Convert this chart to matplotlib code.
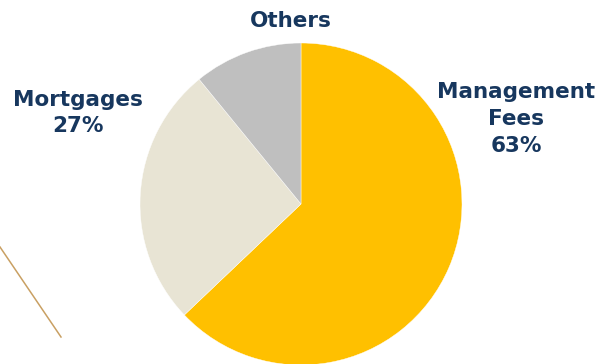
import matplotlib
matplotlib.use("Agg")
import matplotlib.pyplot as plt
from matplotlib.lines import Line2D

# Data
categories = ["Management\nFees", "Mortgages", "Others"]
values = [62.9, 26.2, 10.9]
label_pct = ["63%", "27%", ""]
colors = ["#FFC000", "#E8E4D4", "#BFBFBF"]

W, H = 598, 364
fig = plt.figure(figsize=(W / 100, H / 100), dpi=100)
ax = fig.add_axes([0, 0, 1, 1])
ax.pie(values, colors=colors, startangle=90, counterclock=False,
       center=(301, H - 204), radius=161,
       wedgeprops=dict(edgecolor="white", linewidth=0.3))
ax.set_xlim(0, W)
ax.set_ylim(0, H)
ax.set_aspect("equal")
ax.axis("off")

navy = "#17375E"
font = dict(family="DejaVu Sans", fontweight="bold", color=navy,
            fontsize=15.5, ha="center", va="center", linespacing=1.42)
ax.text(516, H - 119, categories[0] + "\n" + label_pct[0], **font)
ax.text(78, H - 113, categories[1] + "\n" + label_pct[1], **font)
ax.text(291, H - 21, categories[2], **font)

# decorative line
fig.add_artist(Line2D([0 / W, 61 / W], [1 - 247 / H, 1 - 337 / H],
                      transform=fig.transFigure, color="#C9A063", lw=1.1))

fig.savefig("out.png", dpi=100)
